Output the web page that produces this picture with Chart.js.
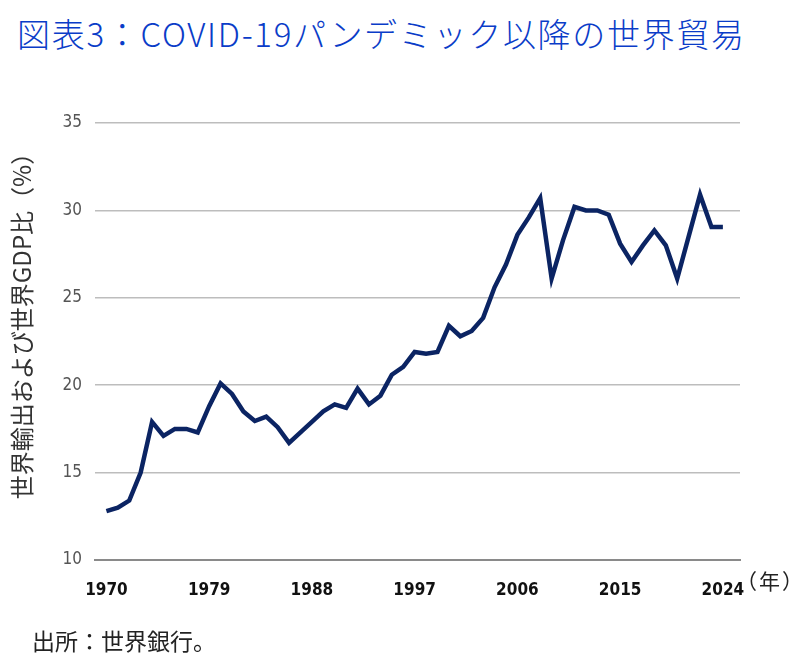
<!DOCTYPE html>
<html lang="ja">
<head>
<meta charset="utf-8">
<script src="https://cdn.jsdelivr.net/npm/chart.js@4/dist/chart.umd.min.js"></script>
<style>
  html, body { margin: 0; padding: 0; background: #fff; }
  #wrap { position: relative; width: 804px; height: 669px; overflow: hidden; }
  #title {
    position: absolute; left: 17px; top: 17px; margin: 0;
    font: 300 33px/1 "Noto Sans CJK JP", "Noto Sans", sans-serif;
    letter-spacing: 1.7px;
    color: #0a3cc8; white-space: nowrap;
  }
  #source {
    position: absolute; left: 32px; top: 629px;
    font: 23px/1 "Noto Sans CJK JP", "Noto Sans", sans-serif;
    color: #222; white-space: nowrap;
  }
  canvas { position: absolute; left: 0; top: 0; }
</style>
</head>
<body>
<div id="wrap">
  <h1 id="title">図表3：COVID-19パンデミック以降の世界貿易</h1>
  <canvas id="chart-canvas" width="804" height="669"></canvas>
  <div id="source">出所：世界銀行。</div>
</div>
<script>
// World exports as % of world GDP, 1970-2024
const years = [];
for (let y = 1970; y <= 2024; y++) years.push(y);

const exportShare = [
  12.8, 13.0, 13.4, 15.0, 17.9, 17.1, 17.5, 17.5, 17.3, 18.8,
  20.1, 19.5, 18.5, 17.95, 18.2, 17.6, 16.7, 17.3, 17.9, 18.5,
  18.9, 18.7, 19.8, 18.9, 19.4, 20.6, 21.05, 21.9, 21.8, 21.9,
  23.4, 22.8, 23.1, 23.85, 25.6, 26.9, 28.6, 29.6, 30.7, 26.1,
  28.3, 30.2, 30.0, 30.0, 29.75, 28.1, 27.05, 28.0, 28.85, 28.0,
  26.1, 28.5, 30.9, 29.05, 29.05
];

const xTickYears = [1970, 1979, 1988, 1997, 2006, 2015, 2024];
const yTicks = [10, 15, 20, 25, 30, 35];
const yTitle = '世界輸出および世界GDP比（%）';

const narrow = '"Liberation Sans Narrow", "DejaVu Sans Condensed", "Roboto", sans-serif';
const cjk = '"Noto Sans CJK JP", "Noto Sans", sans-serif';

// y axis title and the （年） unit after the last year label
const extraText = {
  id: 'extraText',
  afterDraw(chart) {
    const x = chart.scales.x;
    const ctx = chart.ctx;
    ctx.save();
    ctx.font = '21px ' + cjk;
    ctx.fillStyle = '#222';
    ctx.textAlign = 'left';
    ctx.textBaseline = 'middle';
    ctx.letterSpacing = '2px';
    ctx.fillText('（年）', chart.chartArea.right - 4, x.top + 21);
    ctx.letterSpacing = '0px';

    ctx.translate(22, 320);
    ctx.rotate(-Math.PI / 2);
    ctx.font = '24px ' + cjk;
    ctx.fillStyle = '#333';
    ctx.textAlign = 'center';
    ctx.fillText(yTitle, 0, 0);
    ctx.restore();
  }
};

new Chart(document.getElementById('chart-canvas'), {
  type: 'line',
  plugins: [extraText],
  data: {
    datasets: [{
      label: '世界輸出',
      data: years.map((y, i) => ({ x: y, y: exportShare[i] })),
      borderColor: '#0b2463',
      borderWidth: 4.5,
      pointRadius: 0,
      tension: 0,
      fill: false
    }]
  },
  options: {
    responsive: false,
    animation: false,
    events: [],
    layout: {
      padding: { left: 0, right: 64, top: 123, bottom: 69 }
    },
    plugins: {
      legend: { display: false },
      title: { display: false },
      tooltip: { enabled: false }
    },
    scales: {
      x: {
        type: 'linear',
        min: 1969,
        max: 2025.5,
        afterBuildTicks: function(axis) {
          axis.ticks = xTickYears.map(v => ({ value: v }));
        },
        afterFit: function(axis) { axis.height = 40; },
        grid: { display: false },
        border: { display: true, color: '#8a8a8a', width: 2 },
        ticks: {
          autoSkip: false,
          maxRotation: 0,
          padding: 12,
          color: '#111',
          font: { family: narrow, size: 17, weight: 'bold' },
          callback: v => String(v)
        }
      },
      y: {
        min: 10,
        max: 35,
        afterBuildTicks: function(axis) {
          axis.ticks = yTicks.map(v => ({ value: v }));
        },
        afterFit: function(axis) { axis.width = 95; },
        grid: { color: '#bdbdbd', lineWidth: 1.5, drawTicks: false },
        border: { display: false },
        ticks: {
          padding: 13,
          color: '#555',
          font: { family: narrow, size: 17 }
        }
      }
    }
  }
});
</script>
</body>
</html>
